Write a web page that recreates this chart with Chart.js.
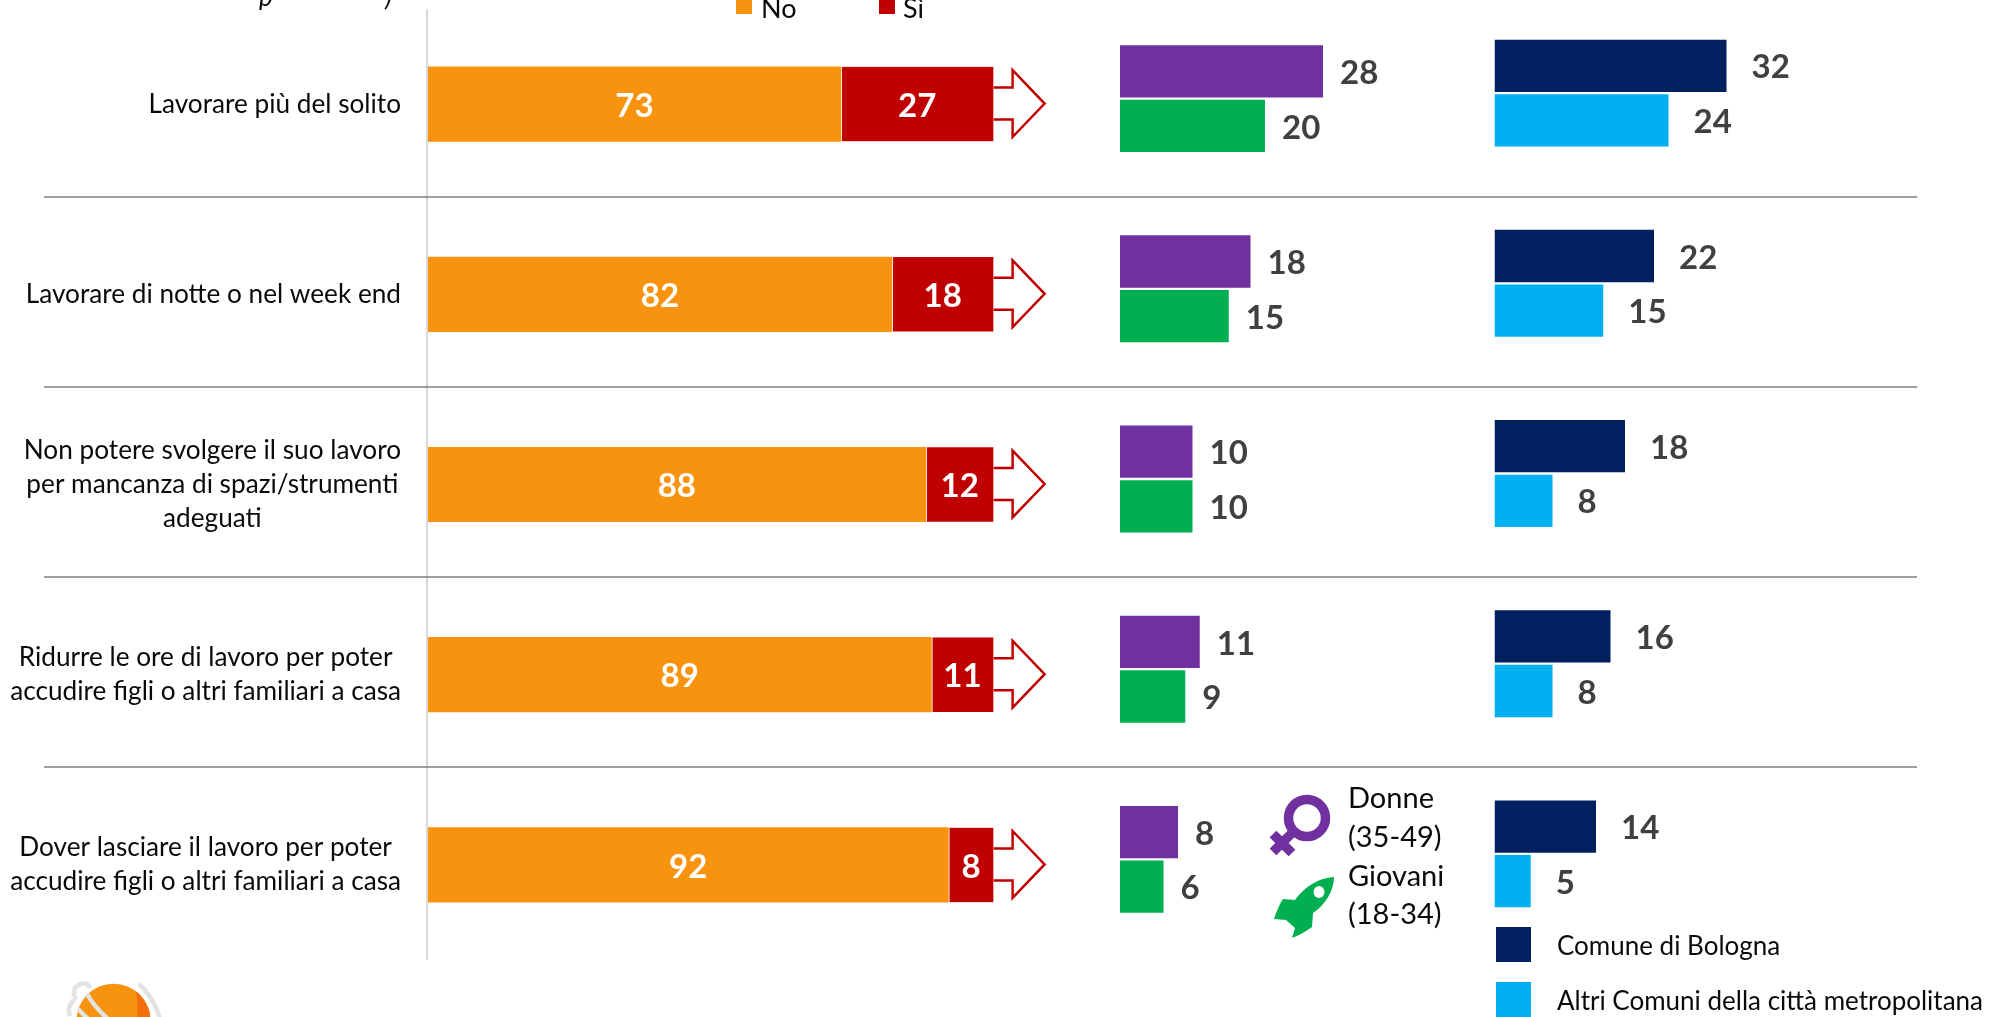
<!DOCTYPE html>
<html lang="it">
<head>
<meta charset="utf-8">
<title>Lavoro</title>
<script src="https://cdn.jsdelivr.net/npm/chart.js@4"></script>
<style>
html,body{margin:0;padding:0;background:#fff;overflow:hidden}
#page{position:relative;width:1991px;height:1017px;overflow:hidden;font-family:Lato,sans-serif;color:#0a0a0a}
canvas{position:absolute;left:0;top:0}
#cArea{top:-11px}
.sw{position:absolute}
.tx{position:absolute;white-space:nowrap;line-height:40px;height:40px}
svg{position:absolute;left:0;top:0}
</style>
</head>
<body>
<div id="page">
  <canvas id="cMain" width="1991" height="1017"></canvas>
  <canvas id="cGender" width="1991" height="1017"></canvas>
  <canvas id="cArea" width="1991" height="1017"></canvas>

  <div class="tx" style="left:259px;top:-24px;font-size:26px;font-style:italic">p</div>
  <div class="tx" style="left:385px;top:-24px;font-size:26px;font-style:italic">)</div>

  <div class="sw" style="left:736px;top:-1px;width:16px;height:15px;background:#f7930f"></div>
  <div class="tx" style="left:761px;top:-12px;font-size:27px">No</div>
  <div class="sw" style="left:879px;top:-1px;width:16px;height:15px;background:#c00000"></div>
  <div class="tx" style="left:903px;top:-12px;font-size:27px">Sì</div>

  <div class="tx" style="left:1348px;top:777px;font-size:29px">Donne</div>
  <div class="tx" style="left:1348px;top:816px;font-size:29px">(35-49)</div>
  <div class="tx" style="left:1348px;top:855px;font-size:29px">Giovani</div>
  <div class="tx" style="left:1348px;top:893px;font-size:29px">(18-34)</div>

  <div class="sw" style="left:1496px;top:927px;width:35px;height:35px;background:#002060"></div>
  <div class="tx" style="left:1557px;top:925px;font-size:26px">Comune di Bologna</div>
  <div class="sw" style="left:1496px;top:982px;width:35px;height:35px;background:#00b0f0"></div>
  <div class="tx" style="left:1557px;top:980px;font-size:26px">Altri Comuni della città metropolitana</div>

  <svg width="1991" height="1017" viewBox="0 0 1991 1017">
    <g fill="none" stroke="#7030a0" stroke-width="9.5">
      <circle cx="1307" cy="818" r="18.5"/>
      <path d="M1294 831 L1273 852"/>
    </g>
    <path d="M1273 834 L1292 853" fill="none" stroke="#7030a0" stroke-width="9.5"/>
    <path d="M1334 877 C1319 878 1305 886 1295 900 L1283 899 C1280 903 1276 913 1274 919 L1286 920 L1295 928 L1292 938 C1300 935 1308 930 1312 927 L1313 913 C1325 905 1334 891 1334 877 Z" fill="#00b050"/>
    <ellipse cx="1319" cy="892" rx="5.5" ry="6" fill="#fff"/>
    <clipPath id="ball"><circle cx="113.5" cy="1020.7" r="37"/></clipPath>
    <circle cx="113.5" cy="1020.7" r="37" fill="#f7930f"/>
    <path d="M133 980 C137 992 138 1005 137 1020 L160 1020 L160 980 Z" fill="#f46f0c" clip-path="url(#ball)"/>
    <g fill="none" stroke="#e3e3e3" stroke-width="4.5">
      <path d="M87 994 C92 1003 99 1011 108 1019"/>
      <path d="M78 1009 C81 1012 84 1015 88 1019"/>
      <path d="M90 988 C88 982 80 982 75 988 C73 993 74 997 77 999"/>
      <path d="M75 1000 C70 1003 67 1009 70 1016"/>
      <path d="M139 984 C149 993 156 1005 160 1019"/>
    </g>
  </svg>
</div>

<script>
const categories = [
  ["Lavorare più del solito"],
  ["Lavorare di notte o nel week end"],
  ["Non potere svolgere il suo lavoro","per mancanza di spazi/strumenti","adeguati"],
  ["Ridurre le ore di lavoro per poter","accudire figli o altri familiari a casa"],
  ["Dover lasciare il lavoro per poter","accudire figli o altri familiari a casa"]
];
const noValues = [73, 82, 88, 89, 92];
const siValues = [27, 18, 12, 11, 8];
const donneValues = [28, 18, 10, 11, 8];
const giovaniValues = [20, 15, 10, 9, 6];
const comuneValues = [32, 22, 18, 16, 14];
const altriValues = [24, 15, 8, 8, 5];

const FONT = 'Lato, sans-serif';
const COLORS = {no:'#f7930f', si:'#c00000', donne:'#7030a0', giovani:'#00b050', comune:'#002060', altri:'#00b0f0'};
const labelText = categories.map(c => c.join(' '));

/* value labels drawn from the bar elements */
const valueLabels = {
  id:'valueLabels',
  afterDatasetsDraw(chart, args, opts){
    const ctx = chart.ctx;
    ctx.save();
    ctx.font = 'bold ' + opts.size + 'px ' + FONT;
    ctx.textBaseline = 'middle';
    chart.data.datasets.forEach((ds, di) => {
      chart.getDatasetMeta(di).data.forEach((el, i) => {
        const p = el.getProps(['x','y','base'], true);
        if (opts.inside) {
          ctx.fillStyle = '#fff';
          ctx.textAlign = 'center';
          ctx.fillText(ds.data[i], (p.x + p.base) / 2, p.y + 2);
        } else {
          ctx.fillStyle = '#404040';
          ctx.textAlign = 'left';
          ctx.fillText(ds.data[i], p.x + opts.gap, p.y + 2);
        }
      });
    });
    ctx.restore();
  }
};

/* axis line, category labels, separators and arrows belonging to the main chart */
const mainDecor = {
  id:'mainDecor',
  beforeDatasetsDraw(chart){
    const a = chart.chartArea;
    chart.ctx.save();
    chart.ctx.fillStyle = '#d9d9d9';
    chart.ctx.fillRect(a.left - 2, a.top, 2, a.bottom - a.top);
    chart.ctx.restore();
  },
  afterDatasetsDraw(chart){
    const ctx = chart.ctx, y = chart.scales.y;
    ctx.save();
    /* row separators */
    ctx.strokeStyle = '#7f7f7f';
    ctx.lineWidth = 1.5;
    for (let i = 0; i < categories.length - 1; i++) {
      const yy = Math.round((y.getPixelForTick(i) + y.getPixelForTick(i + 1)) / 2 - 2.5);
      ctx.beginPath(); ctx.moveTo(44, yy); ctx.lineTo(1917, yy); ctx.stroke();
    }
    /* arrows after the Sì segment */
    ctx.strokeStyle = COLORS.si;
    ctx.lineWidth = 2.5;
    ctx.lineJoin = 'miter';
    chart.getDatasetMeta(1).data.forEach(el => {
      const x = el.x, c = el.y - 0.5;
      ctx.beginPath();
      ctx.moveTo(x, c - 16);
      ctx.lineTo(x + 19, c - 16);
      ctx.lineTo(x + 19, c - 33.4);
      ctx.lineTo(x + 51, c);
      ctx.lineTo(x + 19, c + 33.4);
      ctx.lineTo(x + 19, c + 16);
      ctx.lineTo(x, c + 16);
      ctx.stroke();
    });
    /* category labels: block right aligned, lines centred inside it */
    ctx.font = '26.2px ' + FONT;
    ctx.fillStyle = '#0a0a0a';
    ctx.textBaseline = 'middle';
    ctx.textAlign = 'center';
    const lineH = 34.2, right = 401;
    categories.forEach((lines, i) => {
      const w = Math.max(...lines.map(l => ctx.measureText(l).width));
      const cx = right - w / 2;
      const c = y.getPixelForTick(i);
      lines.forEach((l, k) => ctx.fillText(l, cx, c + (k - (lines.length - 1) / 2) * lineH));
    });
    ctx.restore();
  }
};

const baseOpts = {responsive:false, animation:false, indexAxis:'y', events:[]};

new Chart(document.getElementById('cMain'), {
  type:'bar',
  data:{labels:labelText, datasets:[
    {label:'No', data:noValues, backgroundColor:COLORS.no, stack:'s', barThickness:74.5},
    {label:'Sì', data:siValues, backgroundColor:COLORS.si, borderColor:'#fff', borderWidth:{left:1.5}, borderSkipped:false, stack:'s', barThickness:74.5}
  ]},
  options:{...baseOpts,
    layout:{padding:{left:428, right:997.4, top:9, bottom:57}},
    plugins:{legend:{display:false}, tooltip:{enabled:false}, title:{display:false},
      valueLabels:{size:33, inside:true}},
    scales:{
      x:{display:false, stacked:true, min:0, max:100},
      y:{stacked:true, grid:{display:false}, ticks:{display:false},
         border:{display:false},
         afterFit(s){s.width = 0;}}
    }
  },
  plugins:[mainDecor, valueLabels]
});

function pairChart(id, left, topPad, bottomPad, gap, a, b){
  new Chart(document.getElementById(id), {
    type:'bar',
    data:{labels:labelText, datasets:[a, b]},
    options:{...baseOpts,
      layout:{padding:{left:left, right:1991 - left - 290, top:topPad, bottom:bottomPad}},
      plugins:{legend:{display:false}, tooltip:{enabled:false}, title:{display:false},
        valueLabels:{size:33, inside:false, gap:gap}},
      scales:{
        x:{display:false, min:0, max:40},
        y:{display:false}
      },
      datasets:{bar:{categoryPercentage:0.574, barPercentage:0.958}}
    },
    plugins:[valueLabels]
  });
}

pairChart('cGender', 1120, 3.5, 62.5, 17,
  {label:'Donne (35-49)', data:donneValues, backgroundColor:COLORS.donne},
  {label:'Giovani (18-34)', data:giovaniValues, backgroundColor:COLORS.giovani});
pairChart('cArea', 1494.5, 9, 57, 25,
  {label:'Comune di Bologna', data:comuneValues, backgroundColor:COLORS.comune},
  {label:'Altri Comuni della città metropolitana', data:altriValues, backgroundColor:COLORS.altri});
</script>
</body>
</html>
